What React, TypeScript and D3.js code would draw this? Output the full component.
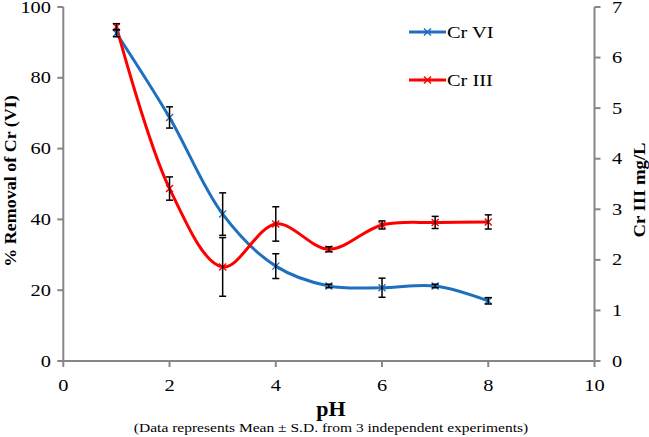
import { useRef, useEffect } from "react";
import * as d3 from "d3";

const phValues = [1, 2, 3, 4, 5, 6, 7, 8];
const crVI = [92.6, 68.8, 41.5, 26.8, 21.2, 20.7, 21.2, 17.0];
const crVIErr = [1.0, 3.0, 6.0, 3.5, 0.5, 2.7, 0.5, 0.9];
const crIII = [6.61, 3.41, 1.86, 2.71, 2.21, 2.69, 2.74, 2.75];
const crIIIErr = [0.06, 0.23, 0.58, 0.34, 0.05, 0.08, 0.12, 0.14];

const xTicks = [0, 2, 4, 6, 8, 10];
const leftTicks = [0, 20, 40, 60, 80, 100];
const rightTicks = [0, 1, 2, 3, 4, 5, 6, 7];

const width = 649;
const height = 437;
const font = "'Liberation Serif', 'Times New Roman', serif";
const axisColor = "#868686";
const blue = "#1f6fbf";
const red = "#ff0000";

const App = () => {
  const svgRef = useRef<SVGSVGElement>(null);

  useEffect(() => {
    if (!svgRef.current) return;
    const svg = d3.select(svgRef.current);
    svg.selectAll("*").remove();

    const x = d3.scaleLinear().domain([0, 10]).range([63.3, 594.5]);
    const yL = d3.scaleLinear().domain([0, 100]).range([361, 7]);
    const yR = d3.scaleLinear().domain([0, 7]).range([361, 7]);

    // text stretched along its baseline, the reference glyphs are wide
    const text = (
      s: string,
      tx: number,
      ty: number,
      size: number,
      anchor: string,
      opts: { bold?: boolean; rotate?: number; stretch?: number } = {}
    ) =>
      svg
        .append("text")
        .attr(
          "transform",
          `translate(${tx},${ty})${opts.rotate ? ` rotate(${opts.rotate})` : ""} scale(${opts.stretch ?? 1.2},1)`
        )
        .attr("text-anchor", anchor)
        .attr("font-family", font)
        .attr("font-size", size)
        .attr("font-weight", opts.bold ? "bold" : "normal")
        .attr("fill", "#000")
        .text(s);

    // axes
    const ax = svg.append("g").attr("stroke", axisColor).attr("stroke-width", 2);
    ax.append("line").attr("x1", x(0)).attr("x2", x(10)).attr("y1", yL(0)).attr("y2", yL(0));
    ax.append("line").attr("x1", x(0)).attr("x2", x(0)).attr("y1", yL(0)).attr("y2", yL(100));
    ax.append("line").attr("x1", x(10)).attr("x2", x(10)).attr("y1", yR(0)).attr("y2", yR(7));

    xTicks.forEach((t) => {
      ax.append("line").attr("x1", x(t)).attr("x2", x(t)).attr("y1", yL(0)).attr("y2", yL(0) + 6);
      text(String(t), x(t), 391, 17, "middle");
    });
    leftTicks.forEach((t) => {
      ax.append("line").attr("x1", x(0) - 6).attr("x2", x(0)).attr("y1", yL(t)).attr("y2", yL(t));
      text(String(t), 51, yL(t) + 5.5, 17, "end");
    });
    rightTicks.forEach((t) => {
      ax.append("line").attr("x1", x(10)).attr("x2", x(10) + 6).attr("y1", yR(t)).attr("y2", yR(t));
      text(String(t), 612, yR(t) + 5.5, 17, "start");
    });

    // titles
    text("% Removal of Cr (VI)", 16, 181, 17, "middle", { bold: true, rotate: -90, stretch: 1.06 });
    text("Cr III mg/L", 645, 190, 17, "middle", { bold: true, rotate: -90, stretch: 1.1 });
    text("pH", 331, 416, 20, "middle", { bold: true, stretch: 1.1 });
    text("(Data represents  Mean \u00b1 S.D. from 3 independent experiments)", 331, 432, 13.5, "middle", { stretch: 1.15 });

    const curve = d3.curveCatmullRom.alpha(0.5);

    const series = [
      { vals: crVI, errs: crVIErr, y: yL, color: blue },
      { vals: crIII, errs: crIIIErr, y: yR, color: red },
    ];

    series.forEach((s) => {
      const line = d3
        .line<number>()
        .x((_, i) => x(phValues[i]))
        .y((d) => s.y(d))
        .curve(curve);
      svg
        .append("path")
        .attr("d", line(s.vals))
        .attr("fill", "none")
        .attr("stroke", s.color)
        .attr("stroke-width", 3);
    });

    series.forEach((s) => {
      const g = svg.append("g");
      s.vals.forEach((v, i) => {
        const cx = x(phValues[i]);
        const cy = s.y(v);
        const m = g.append("g").attr("stroke", s.color).attr("stroke-width", 1.4);
        m.append("line").attr("x1", cx - 3.5).attr("x2", cx + 3.5).attr("y1", cy - 3.5).attr("y2", cy + 3.5);
        m.append("line").attr("x1", cx - 3.5).attr("x2", cx + 3.5).attr("y1", cy + 3.5).attr("y2", cy - 3.5);
      });
    });

    series.forEach((s) => {
      const g = svg.append("g").attr("stroke", "#000").attr("stroke-width", 1.5);
      s.vals.forEach((v, i) => {
        const cx = x(phValues[i]);
        const top = s.y(v + s.errs[i]);
        const bot = s.y(v - s.errs[i]);
        g.append("line").attr("x1", cx).attr("x2", cx).attr("y1", top).attr("y2", bot);
        g.append("line").attr("x1", cx - 3.5).attr("x2", cx + 3.5).attr("y1", top).attr("y2", top);
        g.append("line").attr("x1", cx - 3.5).attr("x2", cx + 3.5).attr("y1", bot).attr("y2", bot);
      });
    });

    // legend
    const legend = [
      { label: "Cr VI", color: blue, y: 32 },
      { label: "Cr III", color: red, y: 80 },
    ];
    legend.forEach((l) => {
      svg
        .append("line")
        .attr("x1", 409)
        .attr("x2", 446)
        .attr("y1", l.y)
        .attr("y2", l.y)
        .attr("stroke", l.color)
        .attr("stroke-width", 3);
      const m = svg.append("g").attr("stroke", l.color).attr("stroke-width", 1.4);
      m.append("line").attr("x1", 424).attr("x2", 431).attr("y1", l.y - 3.5).attr("y2", l.y + 3.5);
      m.append("line").attr("x1", 424).attr("x2", 431).attr("y1", l.y + 3.5).attr("y2", l.y - 3.5);
      text(l.label, 447, l.y + 6, 17, "start");
    });

    return () => {
      svg.selectAll("*").remove();
    };
  }, []);

  return (
    <svg
      ref={svgRef}
      width={width}
      height={height}
      style={{ position: "absolute", left: 0, top: 0, background: "#fff" }}
    />
  );
};

export default App;
